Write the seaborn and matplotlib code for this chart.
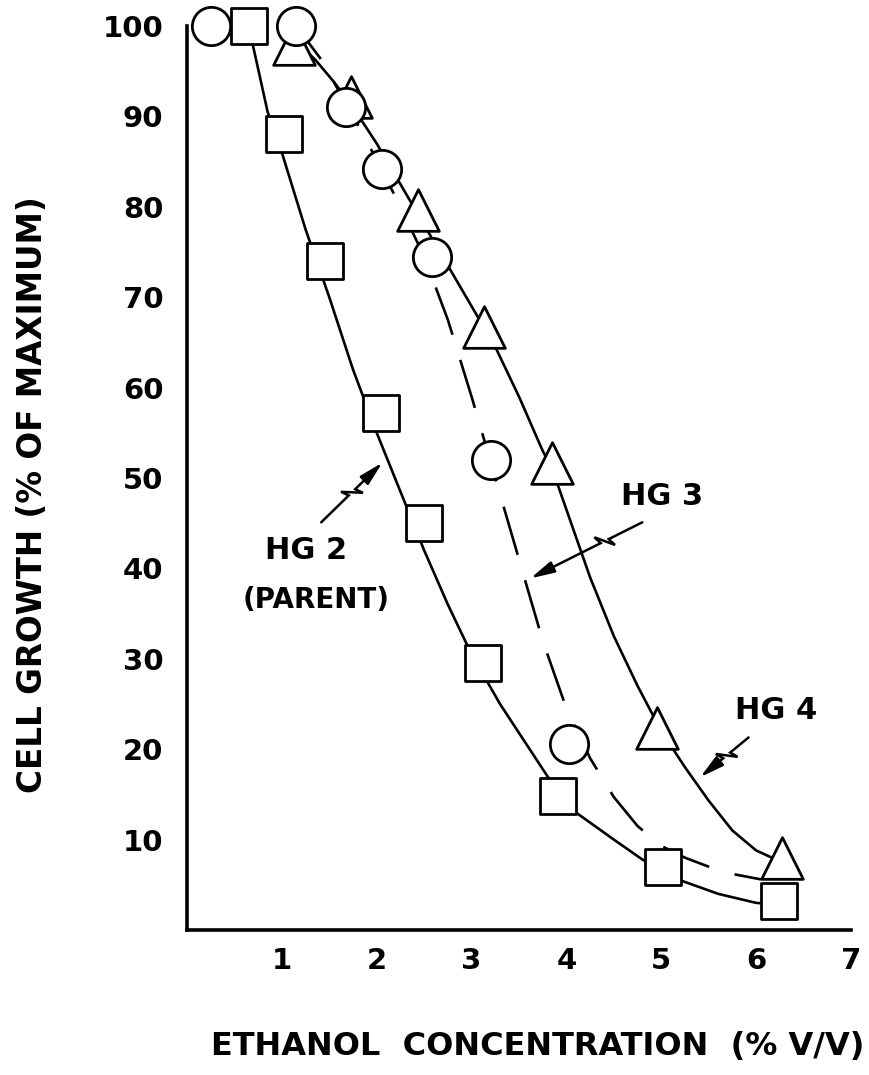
import numpy as np
import pandas as pd
import matplotlib
matplotlib.use("Agg")
import matplotlib.pyplot as plt
import seaborn as sns

# ---------------- data ----------------
# measured points
hg2_x = [0.65, 1.02, 1.45, 2.05, 2.50, 3.12, 3.91, 5.02, 6.24]
hg2_y = [100, 88, 74, 57.2, 45, 29.5, 14.8, 7.0, 3.2]

hg3_x = [0.25, 1.15, 1.68, 2.06, 2.58, 3.21, 4.03]
hg3_y = [100, 100, 91, 84.2, 74.4, 52, 20.6]

hg4_x = [1.13, 1.73, 2.43, 3.13, 3.85, 4.95, 6.27]
hg4_y = [98, 92.2, 79.6, 66.7, 51.7, 22.4, 8.0]

# hand-drawn fitted curves
hg2_curve_x = [0.65, 0.85, 1.0, 1.25, 1.5, 1.75, 2.0, 2.25, 2.5, 2.75, 3.0, 3.3, 3.8, 4.1, 4.5,
               4.8, 5.2, 5.6, 6.0, 6.24]
hg2_curve_y = [100, 90.5, 86, 77.5, 70, 62, 55, 48.5, 42, 36, 30.5, 25, 17, 13, 10,
               7.8, 5.5, 4.0, 3.0, 2.8]

hg3_curve_x = [0.25, 1.15, 1.4, 1.7, 2.0, 2.25, 2.5, 2.75, 3.0, 3.25, 3.5, 3.75, 4.0, 4.25,
               4.5, 4.75, 5.0, 5.25, 5.5, 5.75, 6.05]
hg3_curve_y = [100, 100, 96.5, 91, 85.2, 80, 74.5, 67.5, 59, 50, 41, 32, 24.5, 19,
               14.7, 11.5, 9.3, 8.0, 7.0, 6.2, 5.6]

hg4_curve_x = [1.13, 1.35, 1.55, 1.75, 2.0, 2.25, 2.5, 2.75, 3.0, 3.25, 3.5, 3.75, 3.85, 4.0,
               4.25, 4.5, 4.75, 5.0, 5.25, 5.5, 5.75, 6.0, 6.27]
hg4_curve_y = [98.5, 96.3, 93.8, 91, 87, 82.5, 78, 73.5, 69, 64.5, 59, 53, 51, 46.5,
               39, 32.5, 27, 22, 18, 14.3, 11, 8.8, 7.5]

x_ticks = [1, 2, 3, 4, 5, 6, 7]
y_ticks = [10, 20, 30, 40, 50, 60, 70, 80, 90, 100]

# ---------------- style ----------------
sns.set_style("white")
plt.rcParams["font.family"] = ["DejaVu Sans"]
plt.rcParams["text.color"] = "black"
plt.rcParams["axes.labelcolor"] = "black"

fig = plt.figure(figsize=(8.69, 10.75), dpi=100)
W, H = 869, 1075
ax_left, ax_right, ax_bottom, ax_top = 187, 851, 930, 26
ax = fig.add_axes([ax_left / W, (H - ax_bottom) / H,
                   (ax_right - ax_left) / W, (ax_bottom - ax_top) / H])
ax.set_xlim(0, 7)
ax.set_ylim(0, 100)

lw = 1.9
sns.lineplot(x=hg2_curve_x, y=hg2_curve_y, sort=False, estimator=None, color="black",
             linewidth=lw, ax=ax, zorder=2)
sns.lineplot(x=hg4_curve_x, y=hg4_curve_y, sort=False, estimator=None, color="black",
             linewidth=lw, ax=ax, zorder=2)
sns.lineplot(x=hg3_curve_x, y=hg3_curve_y, sort=False, estimator=None, color="black",
             linewidth=lw, ax=ax, zorder=2)
ax.lines[-1].set_linestyle((0, (19, 10)))
for ln in ax.lines:
    ln.set_clip_on(False)
    ln.set_solid_joinstyle("round")

mk_kw = dict(color="white", edgecolor="black", linewidth=2.0, zorder=3, clip_on=False, ax=ax)
sns.scatterplot(x=hg2_x, y=hg2_y, marker="s", s=640, **mk_kw)
sns.scatterplot(x=hg4_x, y=hg4_y, marker="^", s=900, **mk_kw)
sns.scatterplot(x=hg3_x, y=hg3_y, marker="o", s=760, **mk_kw)

for side in ["top", "right"]:
    ax.spines[side].set_visible(False)
for side in ["left", "bottom"]:
    ax.spines[side].set_linewidth(2.6)
    ax.spines[side].set_color("black")
ax.set_xticks(x_ticks)
ax.set_xticklabels([str(v) for v in x_ticks])
ax.set_yticks(y_ticks)
ax.set_yticklabels([str(v) for v in y_ticks])
ax.tick_params(axis="x", direction="in", length=23, width=2.2, pad=12, labelsize=21, colors="black")
ax.tick_params(axis="y", direction="in", length=19, width=2.2, pad=17, labelsize=21, colors="black")
for lab in ax.get_xticklabels() + ax.get_yticklabels():
    lab.set_fontweight("bold")

ax.set_xlabel("ETHANOL  CONCENTRATION  (% V/V)", fontsize=23, fontweight="bold")
ax.xaxis.set_label_coords((538 - ax_left) / (ax_right - ax_left), -(1031 - ax_bottom) / (ax_bottom - ax_top))
ax.xaxis.label.set_va("top")
ax.set_ylabel("CELL GROWTH (% OF MAXIMUM)", fontsize=23.5, fontweight="bold")
ax.yaxis.set_label_coords((33 - ax_left) / (ax_right - ax_left), (ax_bottom - 495) / (ax_bottom - ax_top))
ax.yaxis.label.set_va("center")

txt_kw = dict(ha="center", va="center", fontweight="bold", color="black")
ax.text(1.255, 42.0, "HG 2", fontsize=22, **txt_kw)
ax.text(1.36, 36.5, "(PARENT)", fontsize=20, **txt_kw)
ax.text(5.01, 47.9, "HG 3", fontsize=22, **txt_kw)
ax.text(6.21, 24.3, "HG 4", fontsize=22, **txt_kw)


def bolt_arrow(tail, head, t0, h=8.0, s=12.0):
    T = ax.transData
    p0 = T.transform(tail)
    p1 = T.transform(head)
    d = p1 - p0
    L = np.hypot(*d)
    u = d / L
    n = np.array([-u[1], u[0]])
    A = p0 + u * L * t0
    B = A + n * h - u * 3
    C = A - n * h + u * s
    D = A + u * (s - 3)
    E = p1 - u * 14
    pts = np.array([p0, A, B, C, D, E])
    dp = T.inverted().transform(pts)
    ax.plot(dp[:, 0], dp[:, 1], color="black", lw=1.8, solid_joinstyle="miter", zorder=4)
    ax.annotate("", xy=head, xytext=tuple(dp[-1]),
                arrowprops=dict(arrowstyle="-|>,head_length=0.9,head_width=0.22",
                                color="black", lw=1.8, mutation_scale=16,
                                shrinkA=0, shrinkB=0), zorder=4)


bolt_arrow((1.415, 45.1), (2.06, 51.7), 0.45)
bolt_arrow((4.80, 45.1), (3.62, 38.9), 0.30)
bolt_arrow((5.92, 21.3), (5.41, 16.9), 0.38)

fig.savefig("out.png", dpi=100, facecolor="white")
